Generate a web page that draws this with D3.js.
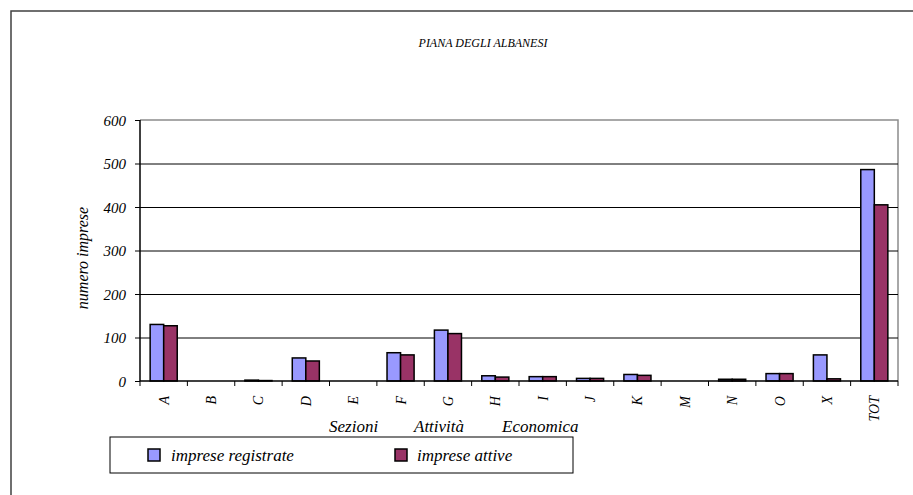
<!DOCTYPE html>
<html><head><meta charset="utf-8">
<script src="https://cdn.jsdelivr.net/npm/d3@7"></script>
</head><body style="margin:0">
<script>
const categories = ["A","B","C","D","E","F","G","H","I","J","K","M","N","O","X","TOT"];
const registrate = [130,0,2,53,0,65,117,12,10,6,15,0,4,17,60,486];
const attive     = [127,0,1,46,0,60,109,9,10,6,13,0,4,17,5,405];
const seriesNames = ["imprese registrate","imprese attive"];
const colors = ["#9999FF","#993366"];
const yTicks = [0,100,200,300,400,500,600];

const FONT = "Times New Roman";
const W=913,H=495;
const svg=d3.select("body").append("svg").attr("width",W).attr("height",H).attr("font-family",FONT);
function txt(sel,size){
  return sel.attr("font-family",FONT).attr("font-style","italic").attr("font-size",size).attr("fill","#000")
    .style("font-family","'Times New Roman','Liberation Serif',serif","important").style("font-style","italic");
}
svg.append("rect").attr("x",11).attr("y",11).attr("width",W).attr("height",H)
  .attr("fill","#fff").attr("stroke","#404040").attr("stroke-width",1.5);

const L=140,R=898,T=120,B=381;
const x=d3.scaleBand().domain(categories).range([L,R]);
const x1=d3.scaleBand().domain([0,1]).range([0,x.bandwidth()]).paddingInner(0).paddingOuter(0.75);
const y=d3.scaleLinear().domain([0,600]).range([B,T]);

txt(svg.append("text").attr("x",483).attr("y",47).attr("text-anchor","middle").text("PIANA DEGLI ALBANESI"),12);
txt(svg.append("text").attr("transform","translate(88,258) rotate(-90)").attr("text-anchor","middle").text("numero imprese"),16);
[["Sezioni",329],["Attività",414],["Economica",502]].forEach(([t,px])=>{
  txt(svg.append("text").attr("x",px).attr("y",432).text(t),17);
});

svg.append("path").attr("d",`M${L},${T}H${R}V${B}`).attr("fill","none").attr("stroke","#8c8c8c").attr("stroke-width",1.5);
svg.append("g").selectAll("line").data(yTicks.filter(v=>v>0&&v<600)).join("line")
  .attr("x1",L).attr("x2",R).attr("y1",d=>y(d)+0.5).attr("y2",d=>y(d)+0.5).attr("stroke","#000").attr("stroke-width",1);

const data=categories.map((c,i)=>({c,v:[registrate[i],attive[i]]}));
const g=svg.append("g");
data.forEach(d=>{
  d.v.forEach((v,k)=>{
    g.append("rect").attr("x",x(d.c)+x1(k)).attr("y",y(v)).attr("width",x1.bandwidth()).attr("height",B-y(v))
      .attr("fill",colors[k]).attr("stroke","#000").attr("stroke-width",1.5);
  });
});

const ya=svg.append("g").attr("transform",`translate(${L},0)`)
  .call(d3.axisLeft(y).tickValues(yTicks).tickSize(5).tickPadding(9).tickFormat(d3.format("d")));
ya.attr("font-family",FONT).attr("font-size",15);
ya.select(".domain").remove();
ya.append("line").attr("x1",0).attr("x2",0).attr("y1",T).attr("y2",B).attr("stroke","#000").attr("stroke-width",1.5);
ya.selectAll(".tick line").attr("stroke","#000");
txt(ya.selectAll(".tick text"),15).attr("dy","0.35em");

const xa=svg.append("g").attr("transform",`translate(0,${B})`);
xa.append("line").attr("x1",L).attr("x2",R).attr("stroke","#000").attr("stroke-width",1.5);
const bounds=categories.map(c=>x(c)).concat([R]);
xa.selectAll("line.t").data(bounds).join("line").attr("class","t")
  .attr("x1",d=>d).attr("x2",d=>d).attr("y1",0).attr("y2",5).attr("stroke","#000");
txt(xa.selectAll("text").data(categories).join("text")
  .attr("transform",d=>`translate(${x(d)+x.bandwidth()/2+5},15) rotate(-90)`)
  .attr("text-anchor","end").text(d=>d),14);

const lg=svg.append("g");
lg.append("rect").attr("x",110).attr("y",437).attr("width",463).attr("height",36).attr("fill","#fff").attr("stroke","#000").attr("stroke-width",1);
[[148,171],[395,417]].forEach(([sx,tx],k)=>{
  lg.append("rect").attr("x",sx).attr("y",449).attr("width",12).attr("height",12).attr("fill",colors[k]).attr("stroke","#000").attr("stroke-width",1.5);
  txt(lg.append("text").attr("x",tx).attr("y",461).text(seriesNames[k]),17);
});
</script>
</body></html>
